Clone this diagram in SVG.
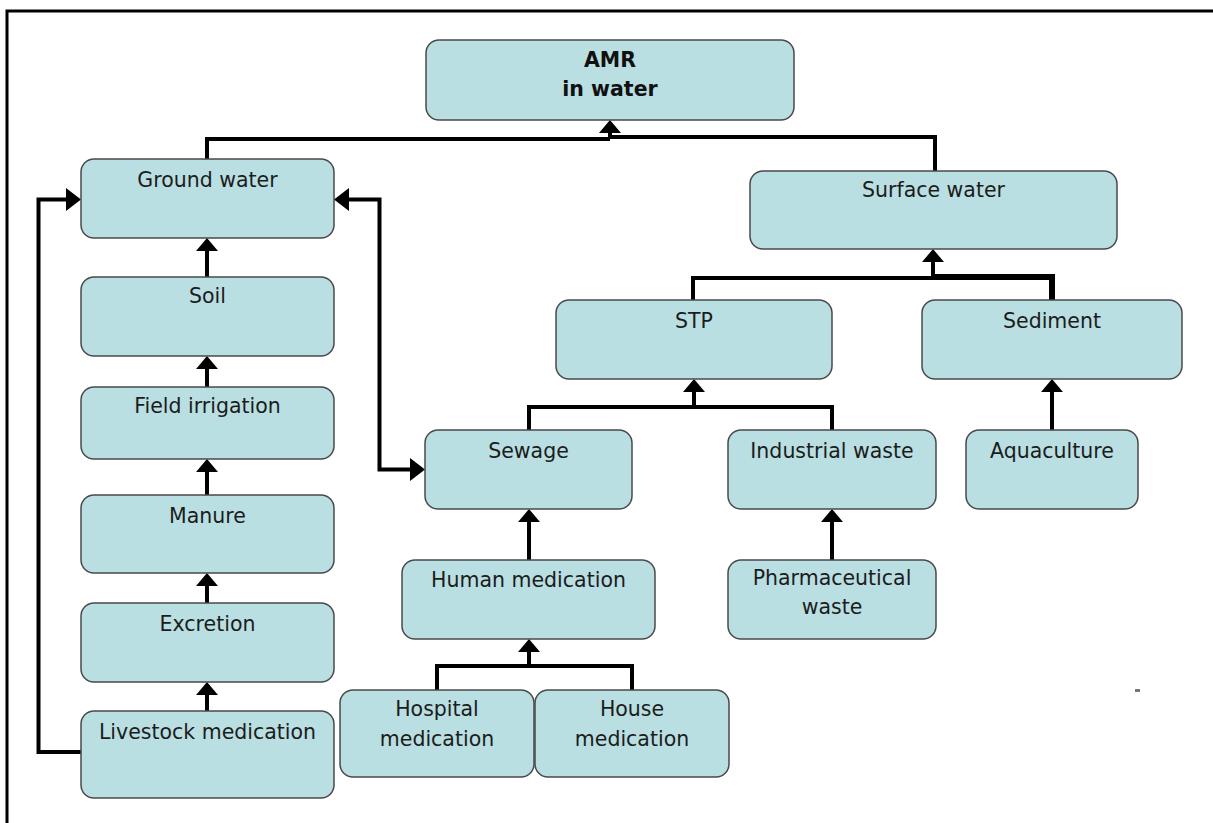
<svg xmlns="http://www.w3.org/2000/svg" width="1213" height="823" viewBox="0 0 1213 823">
<style>
.n rect{fill:#b9dfe2;stroke:#4a4a4a;stroke-width:1.5}
.n text{font-family:"DejaVu Sans",Verdana,sans-serif;font-size:20.5px;fill:#1c1c1c;text-anchor:middle}
.n text.b{font-weight:bold;fill:#111}
.c path{fill:none;stroke:#000;stroke-width:4;stroke-linejoin:miter}
.c polygon{fill:#000}
</style>
<rect x="0" y="0" width="1213" height="823" fill="#fff"/>
<g id="frame" fill="none" stroke="#000" stroke-width="3">
<path d="M7,823 V11 H1213"/>
</g>
<rect x="1135" y="689" width="5" height="3" fill="#777"/>

<g id="connectors" class="c">
<!-- Ground water / Surface water to AMR -->
<path d="M207,159 V139 H610"/>
<path d="M610,139 V130"/>
<path d="M610,137 H935 V171"/>
<polygon points="610,120 599,133 621,133"/>
<!-- left column -->
<path d="M207,277 V250"/>
<polygon points="207,238 196,251 218,251"/>
<path d="M207,387 V366"/>
<polygon points="207,356 196,369 218,369"/>
<path d="M207,495 V470"/>
<polygon points="207,459 196,472 218,472"/>
<path d="M207,603 V584"/>
<polygon points="207,573 196,586 218,586"/>
<path d="M207,711 V692"/>
<polygon points="207,682 196,695 218,695"/>
<!-- livestock loop -->
<path d="M81,752 H38.5 V199.5 H66"/>
<polygon points="81,199.5 66,188 66,211"/>
<!-- ground water <-> sewage -->
<path d="M348,199.5 H379.5 V469.5 H411"/>
<polygon points="334,199.5 349,188 349,211"/>
<polygon points="425,469.5 410,458 410,481"/>
<!-- sewage/industrial to STP -->
<path d="M529,430 V407 H832 V430"/>
<path d="M694,407 V390"/>
<polygon points="694,379 683,392 705,392"/>
<!-- STP/Sediment to Surface water -->
<path d="M693,300 V278 H935"/>
<path d="M933,277 H1052 V300" style="stroke-width:6"/>
<path d="M933,276 V260"/>
<polygon points="933,249 922,262 944,262"/>
<!-- Aquaculture to Sediment -->
<path d="M1052,430 V390"/>
<polygon points="1052,379 1041,392 1063,392"/>
<!-- Human medication to Sewage -->
<path d="M529,560 V520"/>
<polygon points="529,509 518,522 540,522"/>
<!-- Pharmaceutical to Industrial -->
<path d="M832,560 V520"/>
<polygon points="832,509 821,522 843,522"/>
<!-- Hospital/House to Human medication -->
<path d="M437,690 V666 H632 V690"/>
<path d="M529,666 V650"/>
<polygon points="529,639 518,652 540,652"/>
</g>

<g id="amr" class="n"><rect x="426" y="40" width="368" height="80" rx="13"/><text class="b" x="610" y="67">AMR</text><text class="b" x="610" y="96">in water</text></g>
<g id="ground-water" class="n"><rect x="81" y="159" width="253" height="79" rx="13"/><text x="207.5" y="187">Ground water</text></g>
<g id="surface-water" class="n"><rect x="750" y="171" width="367" height="78" rx="13"/><text x="933.5" y="197">Surface water</text></g>
<g id="stp" class="n"><rect x="556" y="300" width="276" height="79" rx="13"/><text x="694" y="328">STP</text></g>
<g id="sediment" class="n"><rect x="922" y="300" width="260" height="79" rx="13"/><text x="1052" y="328">Sediment</text></g>
<g id="soil" class="n"><rect x="81" y="277" width="253" height="79" rx="13"/><text x="207.5" y="303">Soil</text></g>
<g id="field-irrigation" class="n"><rect x="81" y="387" width="253" height="72" rx="13"/><text x="207.5" y="413">Field irrigation</text></g>
<g id="manure" class="n"><rect x="81" y="495" width="253" height="78" rx="13"/><text x="207.5" y="523">Manure</text></g>
<g id="excretion" class="n"><rect x="81" y="603" width="253" height="79" rx="13"/><text x="207.5" y="631">Excretion</text></g>
<g id="livestock-medication" class="n"><rect x="81" y="711" width="253" height="87" rx="13"/><text x="207.5" y="739">Livestock medication</text></g>
<g id="sewage" class="n"><rect x="425" y="430" width="207" height="79" rx="13"/><text x="528.5" y="458">Sewage</text></g>
<g id="industrial-waste" class="n"><rect x="728" y="430" width="208" height="79" rx="13"/><text x="832" y="458">Industrial waste</text></g>
<g id="aquaculture" class="n"><rect x="966" y="430" width="172" height="79" rx="13"/><text x="1052" y="458">Aquaculture</text></g>
<g id="human-medication" class="n"><rect x="402" y="560" width="253" height="79" rx="13"/><text x="528.5" y="587">Human medication</text></g>
<g id="pharmaceutical-waste" class="n"><rect x="728" y="560" width="208" height="79" rx="13"/><text x="832" y="585">Pharmaceutical</text><text x="832" y="614">waste</text></g>
<g id="hospital-medication" class="n"><rect x="340" y="690" width="194" height="87" rx="13"/><text x="437" y="716">Hospital</text><text x="437" y="746">medication</text></g>
<g id="house-medication" class="n"><rect x="535" y="690" width="194" height="87" rx="13"/><text x="632" y="716">House</text><text x="632" y="746">medication</text></g>
</svg>
